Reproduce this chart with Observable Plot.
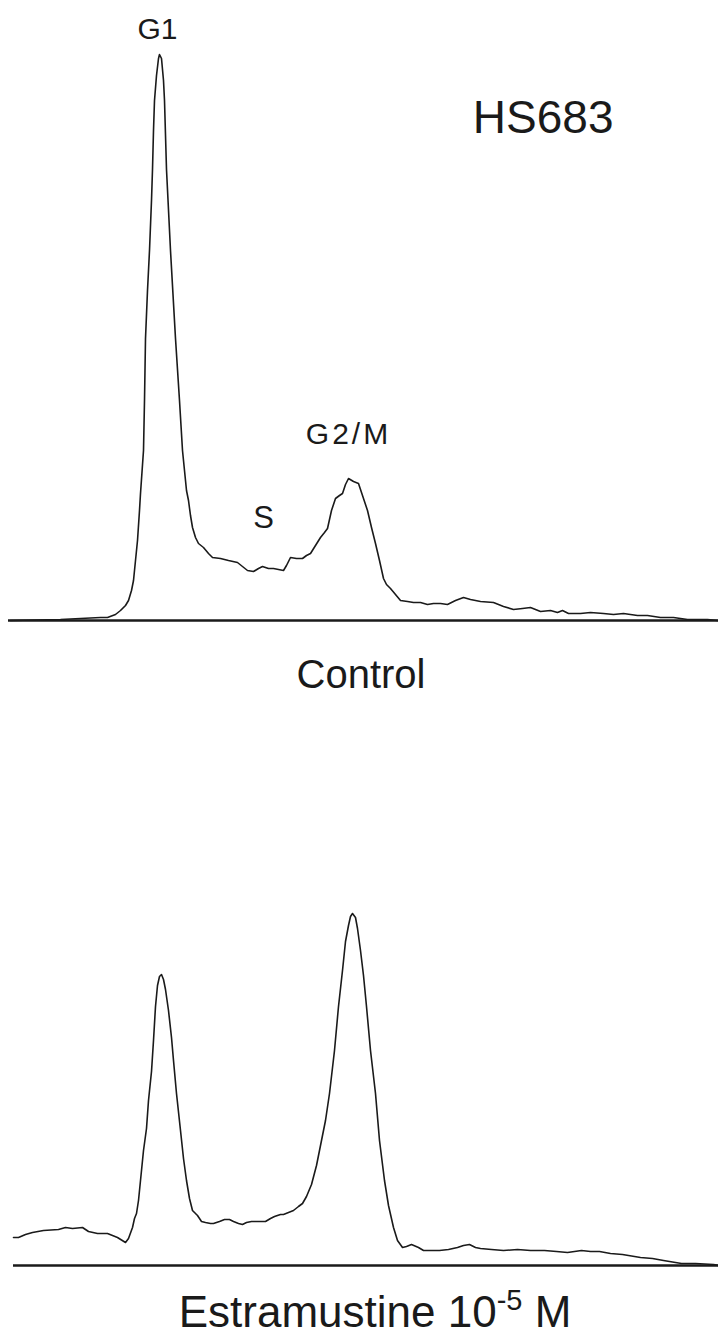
<!DOCTYPE html>
<html><head><meta charset="utf-8">
<script src="https://cdn.jsdelivr.net/npm/d3@7"></script>
<script src="https://cdn.jsdelivr.net/npm/@observablehq/plot@0.6"></script>
<style>
html,body{margin:0;padding:0;background:#fff;}
#page{position:relative;width:718px;height:1338px;overflow:hidden;font-family:"Liberation Sans",Arial,sans-serif;color:#1a1a1a;}
#top,#bottom{position:absolute;left:0;}
#top{top:0;} #bottom{top:660px;}
.cap{position:absolute;left:0;width:718px;text-align:center;line-height:1;white-space:nowrap;box-sizing:border-box;}
#capTop{top:654px;font-size:40px;padding-left:4px;}
#capBot{top:1290px;font-size:44px;padding-left:32px;}
#capBot .sup{font-size:29px;position:relative;top:-17px;}
</style></head><body>
<div id="page">
  <div id="top"></div>
  <div id="capTop" class="cap">Control</div>
  <div id="bottom"></div>
  <div id="capBot" class="cap">Estramustine 10<span class="sup">-5</span> M</div>
</div>
<script>
// Control (HS683) DNA histogram: channel vs cell count
const controlChannel = [10,60,80,100,107,115,120,125,128,131,133,135,137,139,140,143,144,145,147,149,151,152,153,154,156,158,159,161,163,164,166,170,175,179,182,184,186,188,190,192,195,198,203,208,212,220,228,237,242,247,253,258,262,268,273,283,286,290,296,302,306,310,315,320,324,327,331,335,339,342,345,348,353,358,362,367,371,375,379,383,386,390,395,400,407,413,420,427,433,440,447,455,463,470,480,493,503,513,522,530,540,550,557,562,568,580,590,603,613,623,637,647,660,673,687,707,717];
const controlCount = [0,1,2,3,3,6,10,15,20,30,40,60,80,110,127,170,220,282,330,370,420,451,490,520,545,562,566,562,540,520,451,370,282,220,170,150,130,120,105,93,83,77,73,67,63,62,60,58,54,50,49,52,54,52,52,50,55,63,62,62,65,67,75,83,88,92,110,122,125,127,136,142,139,137,125,110,93,77,60,42,36,32,26,20,19,18,18,16,17,17,16,20,23,21,19,18,14,11,12,13,9,10,8,10,7,7,8,7,6,7,5,5,3,3,1,1,0];

// Estramustine 10^-5 M DNA histogram
const estraChannel = [13,18,25,32,43,58,65,72,82,88,97,107,117,125,128,132,134,136,138,140,143,146,148,151,153,155,157,159,161,163,165,168,171,173,176,180,183,186,189,192,197,201,205,210,213,219,224,229,233,238,242,246,251,258,265,270,274,280,283,288,293,298,302,306,311,316,320,325,329,334,338,342,345,348,350,352,355,357,360,363,366,370,375,379,384,388,393,397,402,406,411,418,423,431,439,448,457,463,469,475,480,491,503,517,530,544,556,567,581,590,599,610,622,640,652,663,681,695,713,718];
const estraCount = [28,28,31,33,35,36,38,37,38,34,32,32,28,23,27,38,47,52,65,85,115,137,165,194,225,259,280,289,291,286,276,255,228,205,172,135,107,85,67,55,50,44,43,42,42,44,46,46,44,42,41,43,44,44,44,47,49,51,51,53,55,59,62,69,81,100,120,145,172,215,259,295,324,340,349,352,348,337,315,290,259,215,172,125,85,60,38,25,18,19,21,18,15,15,15,16,18,20,21,18,17,16,15,16,15,15,14,13,15,14,14,12,11,8,7,5,2,2,1,0];

const phaseLabels = ["G1", "S", "G2/M"];
const cellLine = "HS683";

const control = controlChannel.map((c, i) => ({channel: c, count: controlCount[i]}));
const estra = estraChannel.map((c, i) => ({channel: c, count: estraCount[i]}));

const ink = "#1a1a1a";
const font = "Liberation Sans, Arial, sans-serif";

const g1Region = control.filter(d => d.channel < 250);
const sRegion = control.filter(d => d.channel > 240 && d.channel < 290);
const g2Region = control.filter(d => d.channel > 300 && d.channel < 420);

const topPlot = Plot.plot({
  width: 718, height: 640,
  marginTop: 0, marginRight: 0, marginBottom: 20, marginLeft: 0,
  x: {domain: [0, 718], axis: null},
  y: {domain: [0, 620], axis: null},
  style: {background: "transparent", overflow: "visible", fontFamily: font},
  marks: [
    Plot.ruleY([0], {stroke: ink, strokeWidth: 2.4, insetLeft: 8}),
    Plot.line(control, {x: "channel", y: "count", stroke: ink, strokeWidth: 1.6, strokeLinejoin: "round"}),
    Plot.text(g1Region, Plot.selectMaxY({x: "channel", y: "count", text: () => phaseLabels[0], dx: -2, dy: -16, lineAnchor: "bottom", fontSize: 30, fill: ink})),
    Plot.text(sRegion, Plot.selectMinY({x: "channel", y: "count", text: () => phaseLabels[1], dx: 10, dy: -44, lineAnchor: "bottom", fontSize: 31, fill: ink})),
    Plot.text(g2Region, Plot.selectMaxY({x: "channel", y: "count", text: () => phaseLabels[2], dy: -35, lineAnchor: "bottom", fontSize: 30, fill: ink})),
    Plot.text([cellLine], {frameAnchor: "top-right", text: d => d, textAnchor: "end", lineAnchor: "bottom", dx: -105, dy: 132, fontSize: 46, fill: ink})
  ]
});
d3.select(topPlot).selectAll("text").filter(function() { return this.textContent === "G2/M"; }).style("letter-spacing", "3px");
document.getElementById("top").appendChild(topPlot);

const botPlot = Plot.plot({
  width: 718, height: 620,
  marginTop: 0, marginRight: 0, marginBottom: 15, marginLeft: 0,
  x: {domain: [0, 718], axis: null},
  y: {domain: [0, 605], axis: null},
  style: {background: "transparent", overflow: "visible", fontFamily: font},
  marks: [
    Plot.ruleY([0], {stroke: ink, strokeWidth: 2.4, insetLeft: 13}),
    Plot.line(estra, {x: "channel", y: "count", stroke: ink, strokeWidth: 1.6, strokeLinejoin: "round"})
  ]
});
document.getElementById("bottom").appendChild(botPlot);
</script>
</body></html>
